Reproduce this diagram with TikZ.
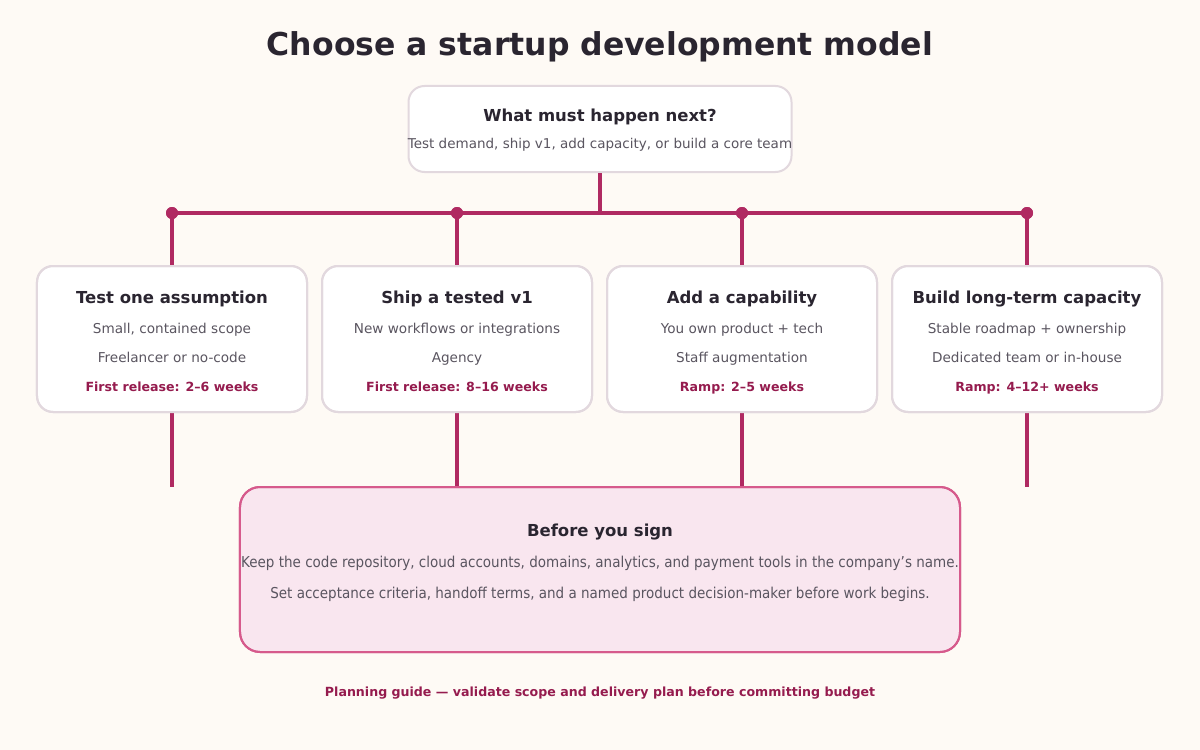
\documentclass[tikz,border=0pt]{standalone}
\usepackage{fontspec}
\setmainfont{DejaVu Sans}
\newfontfamily\condfont[FakeStretch=0.9]{DejaVu Sans}
\definecolor{bg}{HTML}{FEFAF5}
\definecolor{ink}{HTML}{2A2530}
\definecolor{grey}{HTML}{5A5560}
\definecolor{wire}{HTML}{B02A62}
\definecolor{accent}{HTML}{951B4E}
\definecolor{cardline}{HTML}{E2D8DE}
\definecolor{notefill}{HTML}{F9E6EF}
\definecolor{noteline}{HTML}{D65A8C}
\tikzset{
  card/.style={draw=cardline, line width=2bp, fill=white, rounded corners=16bp, minimum width=270bp, minimum height=146bp, inner sep=0pt},
  topcard/.style={card, minimum width=383bp, minimum height=86bp},
  note/.style={draw=noteline, fill=notefill, line width=2bp, rounded corners=20bp, minimum width=720bp, minimum height=165bp, inner sep=0pt},
  wireline/.style={draw=wire, line width=4bp},
  dot/.style={circle, fill=wire, minimum size=12bp, inner sep=0pt},
  txt/.style={inner sep=0pt, anchor=base},
  hd/.style={txt, font=\fontsize{16.5bp}{20bp}\selectfont\bfseries, text=ink},
  body/.style={txt, font=\fontsize{13.6bp}{17bp}\selectfont, text=grey},
  cbody/.style={txt, font=\fontsize{15bp}{17bp}\selectfont\condfont, text=grey},
  tag/.style={txt, font=\fontsize{12.6bp}{16bp}\selectfont\bfseries, text=accent},
}
\begin{document}
\begin{tikzpicture}[x=1bp,y=-1bp]
\fill[bg] (0,0) rectangle (1200,750);
\useasboundingbox (0,0) rectangle (1200,750);

\node[txt, font=\fontsize{31.5bp}{36bp}\selectfont\bfseries, text=ink] (title) at (600,56) {Choose a startup development model};

\node[topcard] (top) at (600,129) {};
\node[hd] (toph) at (600,121.5) {What must happen next?};
\node[body, font=\fontsize{13.5bp}{17bp}\selectfont] (topb) at (600,148.5) {Test demand, ship v1, add capacity, or build a core team};

\coordinate (hub) at (600,213);
\node[dot] (d1) at (172,213) {};
\node[dot] (d2) at (457,213) {};
\node[dot] (d3) at (742,213) {};
\node[dot] (d4) at (1027,213) {};

\node[card] (b1) at (172,339) {};
\node[card] (b2) at (457,339) {};
\node[card] (b3) at (742,339) {};
\node[card] (b4) at (1027,339) {};

\node[note] (note) at (600,569.5) {};

% connectors
\draw[wireline] (top.south) -- (hub);
\draw[wireline] (d1.center) -- (d4.center);
\foreach \i in {1,2,3,4} {\draw[wireline] (d\i.center) -- (b\i.north);}
\node[dot] at (d1) {};\node[dot] at (d2) {};\node[dot] at (d3) {};\node[dot] at (d4) {};
\coordinate (e1) at (172,487);
\coordinate (e4) at (1027,487);
\draw[wireline] (b1.south) -- (e1);
\draw[wireline] (b4.south) -- (e4);
\draw[wireline] (b2.south) -- (b2.south |- note.north);
\draw[wireline] (b3.south) -- (b3.south |- note.north);
% redraw box outlines over line ends
\node[card, fill=none] at (b1) {};
\node[card, fill=none] at (b2) {};
\node[card, fill=none] at (b3) {};
\node[card, fill=none] at (b4) {};
\node[note, fill=none] at (note) {};

\node[hd] (h1) at (172,303.5) {Test one assumption};
\node[body] (l1a) at (172,333) {Small, contained scope};
\node[body] (l1b) at (172,362) {Freelancer or no-code};
\node[tag] (t1) at (172,391.5) {First release: 2–6 weeks};

\node[hd] (h2) at (457,303.5) {Ship a tested v1};
\node[body] (l2a) at (457,333) {New workflows or integrations};
\node[body] (l2b) at (457,362) {Agency};
\node[tag] (t2) at (457,391.5) {First release: 8–16 weeks};

\node[hd] (h3) at (742,303.5) {Add a capability};
\node[body] (l3a) at (742,333) {You own product + tech};
\node[body] (l3b) at (742,362) {Staff augmentation};
\node[tag] (t3) at (742,391.5) {Ramp: 2–5 weeks};

\node[hd] (h4) at (1027,303.5) {Build long-term capacity};
\node[body] (l4a) at (1027,333) {Stable roadmap + ownership};
\node[body] (l4b) at (1027,362) {Dedicated team or in-house};
\node[tag] (t4) at (1027,391.5) {Ramp: 4–12+ weeks};

\node[hd] (nh) at (600,536.5) {Before you sign};
\node[cbody] (n1) at (600,567.5) {Keep the code repository, cloud accounts, domains, analytics, and payment tools in the company’s name.};
\node[cbody] (n2) at (600,598.5) {Set acceptance criteria, handoff terms, and a named product decision-maker before work begins.};

\node[tag] (foot) at (600,696) {Planning guide — validate scope and delivery plan before committing budget};
\end{tikzpicture}
\end{document}
